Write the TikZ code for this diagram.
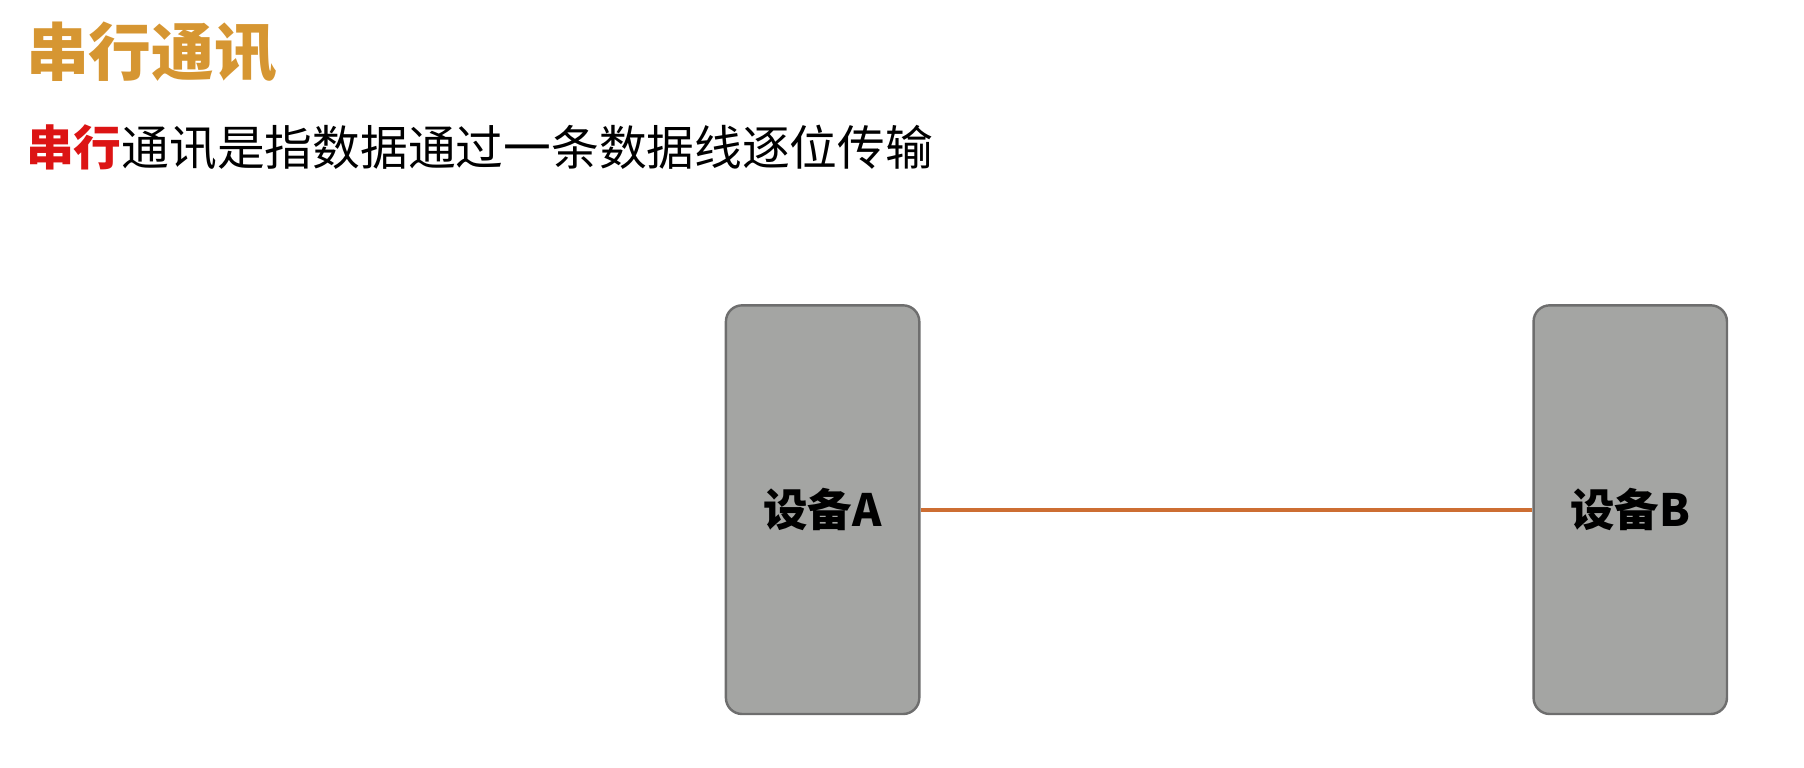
\documentclass[tikz,border=0pt]{standalone}
\usepackage{fontspec}
\newfontfamily\cjk{Noto Sans CJK SC}
\usetikzlibrary{positioning}
\definecolor{TitleGold}{RGB}{214,150,50}
\definecolor{KeyRed}{RGB}{220,20,20}
\definecolor{BoxGray}{RGB}{164,165,163}
\definecolor{BoxEdge}{RGB}{110,110,110}
\definecolor{LineOrange}{RGB}{205,110,50}
\tikzset{
  device/.style={draw=BoxEdge, fill=BoxGray, rounded corners=4pt, line width=0.6pt,
    minimum width=1.68cm, minimum height=3.55cm, font=\cjk\bfseries\fontsize{11}{13}\selectfont},
}
\begin{document}
\begin{tikzpicture}[x=0.01cm,y=-0.01cm]
\useasboundingbox (0,0) rectangle (1568,667);
%Title
\node[anchor=west, inner sep=0, text=TitleGold, font=\cjk\bfseries\fontsize{15.5}{18}\selectfont] (title) at (22,45) {串行通讯};
\node[anchor=west, inner sep=0, font=\cjk\fontsize{11.8}{14}\selectfont] (desc) at (22,128)
  {\textcolor{KeyRed}{\bfseries 串行}通讯是指数据通过一条数据线逐位传输};
%Devices
\node[device] (devA) at (715,443) {设备A};
\node[device] (devB) at (1417,443) {设备B};
\draw[LineOrange, line width=1pt] (devA.east) -- (devB.west);
\end{tikzpicture}
\end{document}
